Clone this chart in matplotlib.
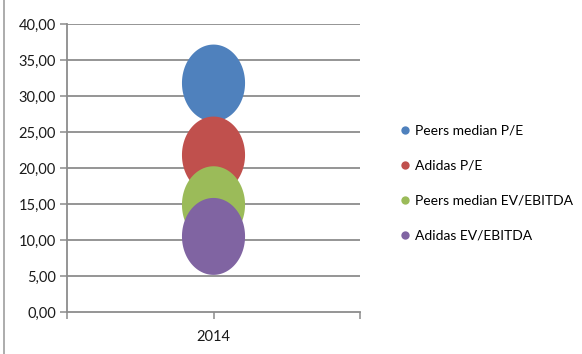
import numpy as np
import matplotlib
matplotlib.use('Agg')
import matplotlib.pyplot as plt
from matplotlib.path import Path
from matplotlib.lines import Line2D

plt.rcParams['font.family'] = ['Lato', 'DejaVu Sans']

# data
categories = ['2014']
series = ['Peers median P/E', 'Adidas P/E', 'Peers median EV/EBITDA', 'Adidas EV/EBITDA']
values = [31.8, 21.8, 14.9, 10.5]
bubble_size = [1.0, 1.0, 1.0, 1.0]
colors = ['#4F81BD', '#C0504D', '#9BBB59', '#8064A2']
yticks = [0, 5, 10, 15, 20, 25, 30, 35, 40]

# bubbles look stretched (taller than wide), use an ellipse marker
t = np.linspace(0, 2 * np.pi, 100)
ell = Path(np.column_stack([0.82 * np.cos(t), np.sin(t)]), closed=True)

fig = plt.figure(figsize=(5.82, 3.54), dpi=100)
ax = fig.add_axes([0.1151, 0.1186, 0.5035, 0.8136])

grid_c = '#8c8c8c'
for v in yticks[1:]:
    ax.axhline(v, color=grid_c, lw=1.3, zorder=1)

for i in range(len(series)):
    ax.scatter([1], [values[i]], s=3070 * bubble_size[i], marker=ell,
               color=colors[i], edgecolor='none', zorder=3)

ax.set_xlim(0, 2)
ax.set_ylim(0, 40)
ax.set_yticks(yticks)
ax.yaxis.set_major_formatter(matplotlib.ticker.FuncFormatter(lambda v, p: ('%.2f' % v).replace('.', ',')))
ax.set_xticks([0, 1, 2])
ax.set_xticklabels(['', categories[0], ''])

for s in ['top', 'right']:
    ax.spines[s].set_visible(False)
for s in ['left', 'bottom']:
    ax.spines[s].set_color(grid_c)
    ax.spines[s].set_linewidth(1.3)
ax.tick_params(axis='both', colors=grid_c, length=5, width=1.1, labelcolor='#1a1a1a', labelsize=10.5)
ax.tick_params(axis='y', pad=3)
ax.tick_params(axis='x', pad=8)

handles = [Line2D([], [], marker='o', ls='none', markersize=6, color=c, markeredgewidth=0) for c in colors]
fig.legend(handles, series, loc='center left', bbox_to_anchor=(0.672, 0.483), frameon=False,
           fontsize=10, labelspacing=1.65, handletextpad=0.1, handlelength=1.2, borderaxespad=0)

fig.add_artist(Line2D([0.007, 0.007], [0, 1], transform=fig.transFigure, color='#a6a6a6', lw=1.3))

fig.savefig('out.png', dpi=100)
